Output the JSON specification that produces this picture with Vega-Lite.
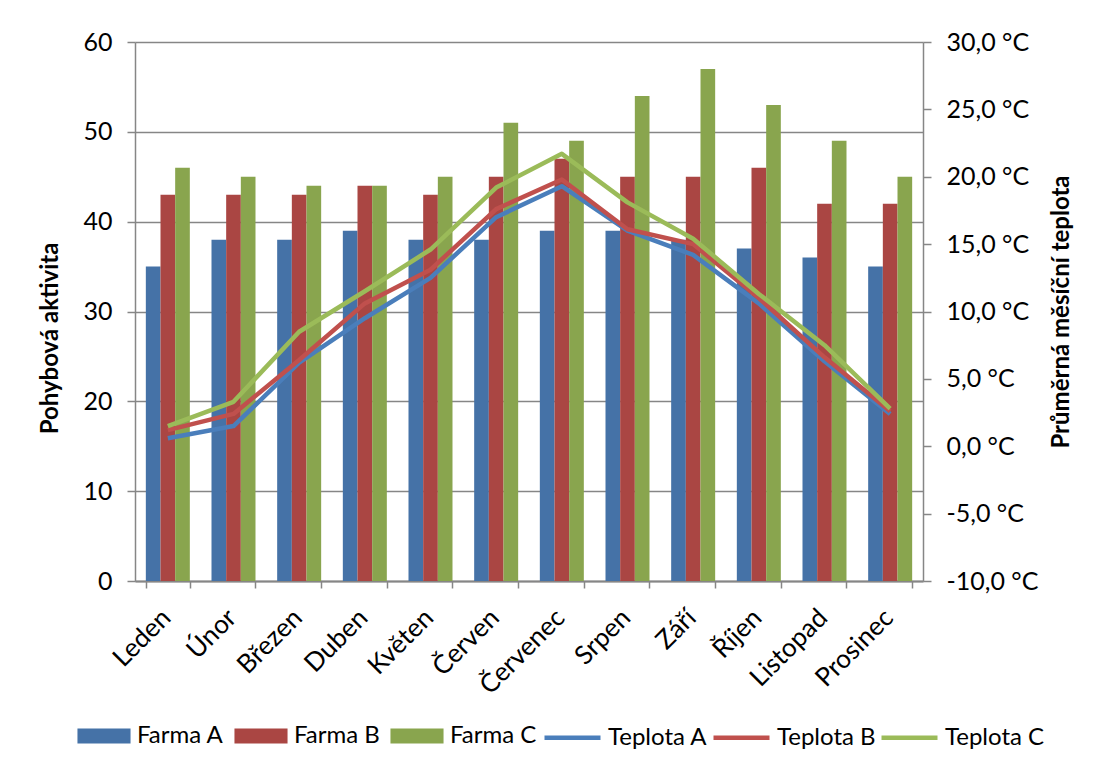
{
  "$schema": "https://vega.github.io/schema/vega-lite/v6.json",
  "width": 788,
  "height": 539,
  "autosize": {"type": "none"},
  "padding": {"left": 135, "top": 42, "right": 172, "bottom": 188},
  "background": "white",
  "config": {
    "font": "Lato",
    "view": {"stroke": null},
    "axis": {"domainColor": "#868686", "domainWidth": 1.5, "tickColor": "#868686", "tickWidth": 1.5, "labelColor": "#000000", "titleColor": "#000000", "labelFont": "Lato", "titleFont": "Lato"},
    "legend": {"labelFont": "Lato", "labelColor": "#000000"}
  },
  "datasets": {
    "bars": [
      {"mesic": "Leden", "farma": "Farma A", "aktivita": 35},
      {"mesic": "Únor", "farma": "Farma A", "aktivita": 38},
      {"mesic": "Březen", "farma": "Farma A", "aktivita": 38},
      {"mesic": "Duben", "farma": "Farma A", "aktivita": 39},
      {"mesic": "Květen", "farma": "Farma A", "aktivita": 38},
      {"mesic": "Červen", "farma": "Farma A", "aktivita": 38},
      {"mesic": "Červenec", "farma": "Farma A", "aktivita": 39},
      {"mesic": "Srpen", "farma": "Farma A", "aktivita": 39},
      {"mesic": "Září", "farma": "Farma A", "aktivita": 38},
      {"mesic": "Říjen", "farma": "Farma A", "aktivita": 37},
      {"mesic": "Listopad", "farma": "Farma A", "aktivita": 36},
      {"mesic": "Prosinec", "farma": "Farma A", "aktivita": 35},
      {"mesic": "Leden", "farma": "Farma B", "aktivita": 43},
      {"mesic": "Únor", "farma": "Farma B", "aktivita": 43},
      {"mesic": "Březen", "farma": "Farma B", "aktivita": 43},
      {"mesic": "Duben", "farma": "Farma B", "aktivita": 44},
      {"mesic": "Květen", "farma": "Farma B", "aktivita": 43},
      {"mesic": "Červen", "farma": "Farma B", "aktivita": 45},
      {"mesic": "Červenec", "farma": "Farma B", "aktivita": 47},
      {"mesic": "Srpen", "farma": "Farma B", "aktivita": 45},
      {"mesic": "Září", "farma": "Farma B", "aktivita": 45},
      {"mesic": "Říjen", "farma": "Farma B", "aktivita": 46},
      {"mesic": "Listopad", "farma": "Farma B", "aktivita": 42},
      {"mesic": "Prosinec", "farma": "Farma B", "aktivita": 42},
      {"mesic": "Leden", "farma": "Farma C", "aktivita": 46},
      {"mesic": "Únor", "farma": "Farma C", "aktivita": 45},
      {"mesic": "Březen", "farma": "Farma C", "aktivita": 44},
      {"mesic": "Duben", "farma": "Farma C", "aktivita": 44},
      {"mesic": "Květen", "farma": "Farma C", "aktivita": 45},
      {"mesic": "Červen", "farma": "Farma C", "aktivita": 51},
      {"mesic": "Červenec", "farma": "Farma C", "aktivita": 49},
      {"mesic": "Srpen", "farma": "Farma C", "aktivita": 54},
      {"mesic": "Září", "farma": "Farma C", "aktivita": 57},
      {"mesic": "Říjen", "farma": "Farma C", "aktivita": 53},
      {"mesic": "Listopad", "farma": "Farma C", "aktivita": 49},
      {"mesic": "Prosinec", "farma": "Farma C", "aktivita": 45}
    ],
    "lines": [
      {"mesic": "Leden", "rada": "Teplota A", "teplota": 0.6},
      {"mesic": "Únor", "rada": "Teplota A", "teplota": 1.5},
      {"mesic": "Březen", "rada": "Teplota A", "teplota": 6.2},
      {"mesic": "Duben", "rada": "Teplota A", "teplota": 9.5},
      {"mesic": "Květen", "rada": "Teplota A", "teplota": 12.5},
      {"mesic": "Červen", "rada": "Teplota A", "teplota": 17.0},
      {"mesic": "Červenec", "rada": "Teplota A", "teplota": 19.3},
      {"mesic": "Srpen", "rada": "Teplota A", "teplota": 16.0},
      {"mesic": "Září", "rada": "Teplota A", "teplota": 14.2},
      {"mesic": "Říjen", "rada": "Teplota A", "teplota": 10.6},
      {"mesic": "Listopad", "rada": "Teplota A", "teplota": 6.3},
      {"mesic": "Prosinec", "rada": "Teplota A", "teplota": 2.4},
      {"mesic": "Leden", "rada": "Teplota B", "teplota": 1.2},
      {"mesic": "Únor", "rada": "Teplota B", "teplota": 2.4},
      {"mesic": "Březen", "rada": "Teplota B", "teplota": 6.4},
      {"mesic": "Duben", "rada": "Teplota B", "teplota": 10.6},
      {"mesic": "Květen", "rada": "Teplota B", "teplota": 13.1},
      {"mesic": "Červen", "rada": "Teplota B", "teplota": 17.6},
      {"mesic": "Červenec", "rada": "Teplota B", "teplota": 19.8},
      {"mesic": "Srpen", "rada": "Teplota B", "teplota": 16.1},
      {"mesic": "Září", "rada": "Teplota B", "teplota": 15.0},
      {"mesic": "Říjen", "rada": "Teplota B", "teplota": 11.0},
      {"mesic": "Listopad", "rada": "Teplota B", "teplota": 6.6},
      {"mesic": "Prosinec", "rada": "Teplota B", "teplota": 2.6},
      {"mesic": "Leden", "rada": "Teplota C", "teplota": 1.5},
      {"mesic": "Únor", "rada": "Teplota C", "teplota": 3.3},
      {"mesic": "Březen", "rada": "Teplota C", "teplota": 8.5},
      {"mesic": "Duben", "rada": "Teplota C", "teplota": 11.5},
      {"mesic": "Květen", "rada": "Teplota C", "teplota": 14.6},
      {"mesic": "Červen", "rada": "Teplota C", "teplota": 19.2},
      {"mesic": "Červenec", "rada": "Teplota C", "teplota": 21.7},
      {"mesic": "Srpen", "rada": "Teplota C", "teplota": 18.1},
      {"mesic": "Září", "rada": "Teplota C", "teplota": 15.4},
      {"mesic": "Říjen", "rada": "Teplota C", "teplota": 11.3},
      {"mesic": "Listopad", "rada": "Teplota C", "teplota": 7.5},
      {"mesic": "Prosinec", "rada": "Teplota C", "teplota": 2.8}
    ]
  },
  "layer": [
    {
      "data": {"name": "bars"},
      "mark": {"type": "bar"},
      "encoding": {
        "x": {
          "field": "mesic", "type": "nominal",
          "sort": ["Leden", "Únor", "Březen", "Duben", "Květen", "Červen", "Červenec", "Srpen", "Září", "Říjen", "Listopad", "Prosinec"],
          "scale": {"paddingInner": 0.33, "paddingOuter": 0.165},
          "axis": {"title": null, "labelAngle": -45, "labelFontSize": 26, "labelAlign": "right", "labelBaseline": "alphabetic", "tickBand": "extent", "tickSize": 7, "labelPadding": 31, "labelOffset": 4, "domainWidth": 2}
        },
        "xOffset": {"field": "farma", "sort": ["Farma A", "Farma B", "Farma C"], "scale": {"paddingInner": 0}},
        "y": {
          "field": "aktivita", "type": "quantitative",
          "scale": {"domain": [0, 60], "nice": false},
          "axis": {"values": [0, 10, 20, 30, 40, 50, 60], "grid": true, "gridColor": "#868686", "gridWidth": 1.5, "tickSize": 8, "labelPadding": 15, "labelFontSize": 25, "title": "Pohybová aktivita", "titleFontSize": 24, "titleFontWeight": "bold", "titlePadding": 20, "titleY": 296}
        },
        "color": {
          "field": "farma", "type": "nominal",
          "scale": {"domain": ["Farma A", "Farma B", "Farma C"], "range": ["#4572A7", "#AA4643", "#89A54E"]},
          "legend": {"title": null, "orient": "none", "direction": "horizontal", "legendX": -47, "legendY": 678, "symbolType": "M-1.7,-0.48H1.7V0.48H-1.7Z", "symbolSize": 975, "labelFontSize": 24, "columnPadding": 10, "labelOffset": 17, "symbolStrokeWidth": 0}
        }
      }
    },
    {
      "data": {"name": "lines"},
      "mark": {"type": "line", "strokeWidth": 4.5, "strokeJoin": "round"},
      "encoding": {
        "x": {"field": "mesic", "type": "nominal", "sort": ["Leden", "Únor", "Březen", "Duben", "Květen", "Červen", "Červenec", "Srpen", "Září", "Říjen", "Listopad", "Prosinec"]},
        "y": {
          "field": "teplota", "type": "quantitative",
          "scale": {"domain": [-10, 30], "nice": false},
          "axis": {"orient": "right", "values": [-10, -5, 0, 5, 10, 15, 20, 25, 30], "grid": false, "tickSize": 8, "labelPadding": 15, "labelFontSize": 25, "labelExpr": "replace(replace(format(datum.value, '.1f'), '.', ','), '\u2212', '-') + ' °C'", "title": "Průměrná měsíční teplota", "titleAngle": -90, "titleFontSize": 24, "titleFontWeight": "bold", "titlePadding": 36}
        },
        "color": {
          "field": "rada", "type": "nominal",
          "scale": {"domain": ["Teplota A", "Teplota B", "Teplota C"], "range": ["#4A7EBB", "#C0504D", "#9BBB59"]},
          "legend": {"title": null, "orient": "none", "direction": "horizontal", "legendX": 407, "legendY": 665, "symbolType": "stroke", "symbolSize": 3136, "symbolStrokeWidth": 4.5, "labelFontSize": 24, "columnPadding": -4, "labelOffset": 5}
        }
      }
    }
  ],
  "resolve": {"scale": {"y": "independent", "color": "independent"}}
}
